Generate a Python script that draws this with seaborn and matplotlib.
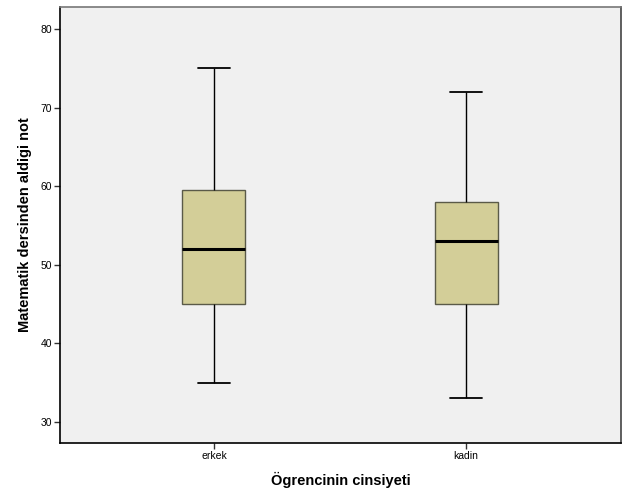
import matplotlib
matplotlib.use("Agg")
import matplotlib.pyplot as plt
import seaborn as sns
import pandas as pd

# Five-number summaries (min, Q1, median, Q3, max)
categories = ["erkek", "kadin"]
erkek_values = [35, 45, 52, 59.5, 75]
kadin_values = [33, 45, 53, 58, 72]
y_ticks = [30, 40, 50, 60, 70, 80]

df = pd.DataFrame({
    "cinsiyet": ["erkek"] * len(erkek_values) + ["kadin"] * len(kadin_values),
    "not": erkek_values + kadin_values,
})

sns.set_style("white")
plt.rcParams["font.family"] = ["Liberation Sans", "DejaVu Sans"]
plt.rcParams["text.color"] = "black"
plt.rcParams["axes.labelcolor"] = "black"
plt.rcParams["xtick.color"] = "black"
plt.rcParams["ytick.color"] = "black"

fig = plt.figure(figsize=(6.29, 5.04), dpi=100)
ax = fig.add_axes([60 / 629, 1 - 443 / 504, 561 / 629, 436 / 504])
ax.set_facecolor("#F0F0F0")

sns.boxplot(
    data=df, x="cinsiyet", y="not", order=categories, ax=ax,
    width=0.25, whis=(0, 100), color="#D3CE98", saturation=1,
    linewidth=1.0, linecolor="black",
    boxprops=dict(edgecolor="#5a5a48", facecolor="#D3CE98"),
    medianprops=dict(color="black", linewidth=2.2),
    whiskerprops=dict(color="black", linewidth=1.0),
    capprops=dict(color="black", linewidth=1.3),
    capwidths=0.125,
)

ax.set_xlim(-0.611, 1.615)
ax.set_ylim(27.33, 82.8)
ax.set_yticks(y_ticks)
ax.set_yticklabels([str(v) for v in y_ticks])
ax.tick_params(axis="both", labelsize=7.5, length=4, width=1, color="#333333",
               labelcolor="black", direction="out", pad=1.5, left=True, bottom=True)

for side, sp in ax.spines.items():
    sp.set_visible(True)
    sp.set_linewidth(1.2)
ax.spines["left"].set_color("black")
ax.spines["bottom"].set_color("black")
ax.spines["right"].set_color("#444444")
ax.spines["top"].set_color("#777777")

ax.set_xlabel("Ögrencinin cinsiyeti", fontsize=10.5, fontweight="bold",
              color="black", labelpad=8)
ax.set_ylabel("Matematik dersinden aldigi not", fontsize=10.5, fontweight="bold",
              color="black", labelpad=6)

fig.savefig("out.png", dpi=100, facecolor="white")
